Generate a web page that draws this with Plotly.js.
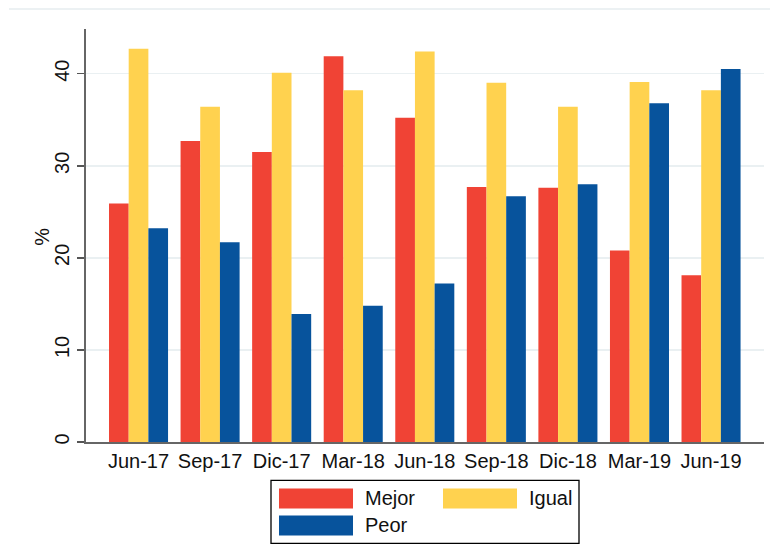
<!DOCTYPE html>
<html>
<head>
<meta charset="utf-8">
<script src="https://cdn.plot.ly/plotly-3.0.1.min.js"></script>
<style>html,body{margin:0;padding:0;background:#fff;}#chart{width:770px;height:560px;}</style>
</head>
<body>
<div id="chart"></div>
<script>
const categories = ["Jun-17","Sep-17","Dic-17","Mar-18","Jun-18","Sep-18","Dic-18","Mar-19","Jun-19"];
const mejor = [25.9, 32.7, 31.5, 41.9, 35.2, 27.7, 27.6, 20.8, 18.1];
const igual = [42.7, 36.4, 40.1, 38.2, 42.4, 39.0, 36.4, 39.1, 38.2];
const peor  = [23.2, 21.7, 13.9, 14.8, 17.2, 26.7, 28.0, 36.8, 40.5];
const seriesNames = ["Mejor", "Igual", "Peor"];
const yTicks = [0, 10, 20, 30, 40];
const yTitle = "%";

const colors = ["#f04335", "#ffd24f", "#07539c"];
const FONT = "Liberation Sans, Arial, sans-serif";
const FS = 20;

const traces = [mejor, igual, peor].map((vals, i) => ({
  type: "bar",
  x: categories,
  y: vals,
  name: seriesNames[i],
  marker: {color: colors[i], line: {width: 0}},
  showlegend: false,
  hoverinfo: "x+y+name"
}));

// plot area in pixels: left 86, right 764, top 29, bottom 442.5
const L = 86, R = 764, T = 29, B = 442.5;
const px = x => (x - L) / (R - L);
const py = y => (B - y) / (B - T);

const shapes = [
  {type:"line", xref:"paper", yref:"paper", x0:px(9), x1:px(770), y0:py(9), y1:py(9), line:{color:"#e6ecef", width:1.5}},
  {type:"rect", xref:"paper", yref:"paper", x0:px(271), x1:px(579), y0:py(481), y1:py(544), line:{color:"#000", width:1.3}, fillcolor:"#fff"},
  {type:"rect", xref:"paper", yref:"paper", x0:px(279), x1:px(353), y0:py(489), y1:py(509), line:{width:0}, fillcolor:colors[0]},
  {type:"rect", xref:"paper", yref:"paper", x0:px(443), x1:px(517), y0:py(489), y1:py(509), line:{width:0}, fillcolor:colors[1]},
  {type:"rect", xref:"paper", yref:"paper", x0:px(279), x1:px(353), y0:py(516), y1:py(536), line:{width:0}, fillcolor:colors[2]}
];

const annotations = [
  {xref:"paper", yref:"paper", x:px(363), y:py(499), xanchor:"left", yanchor:"middle", text:seriesNames[0], showarrow:false, font:{family:FONT, size:FS, color:"#111"}},
  {xref:"paper", yref:"paper", x:px(527), y:py(499), xanchor:"left", yanchor:"middle", text:seriesNames[1], showarrow:false, font:{family:FONT, size:FS, color:"#111"}},
  {xref:"paper", yref:"paper", x:px(363), y:py(526), xanchor:"left", yanchor:"middle", text:seriesNames[2], showarrow:false, font:{family:FONT, size:FS, color:"#111"}},
  {xref:"paper", yref:"paper", x:px(42), y:py(237), xanchor:"center", yanchor:"middle", text:yTitle, textangle:-90, showarrow:false, font:{family:FONT, size:FS, color:"#111"}}
];

const layout = {
  width: 770, height: 560,
  margin: {l: L, r: 770 - R, t: T, b: 560 - B},
  paper_bgcolor: "#fff",
  plot_bgcolor: "#fff",
  barmode: "group",
  bargap: 0.175,
  bargroupgap: 0,
  font: {family: FONT, size: FS, color: "#111"},
  showlegend: false,
  xaxis: {
    type: "category",
    range: [-0.734, 8.74],
    showline: true, linecolor: "#666", linewidth: 2,
    ticks: "", showgrid: false, zeroline: false,
    tickfont: {family: FONT, size: FS, color: "#111"},
    automargin: false
  },
  yaxis: {
    range: [0, 44.85],
    tickvals: yTicks,
    ticktext: yTicks.map(String),
    tickangle: -90,
    ticks: "outside", ticklen: 7, tickwidth: 1.5, tickcolor: "#555",
    showline: true, linecolor: "#666", linewidth: 2,
    showgrid: true, gridcolor: "#eaf0f2", gridwidth: 1.5,
    zeroline: false,
    tickfont: {family: FONT, size: FS, color: "#111"},
    automargin: false
  },
  shapes: shapes,
  annotations: annotations
};

Plotly.newPlot("chart", traces, layout, {displayModeBar: false, staticPlot: true});
</script>
</body>
</html>
